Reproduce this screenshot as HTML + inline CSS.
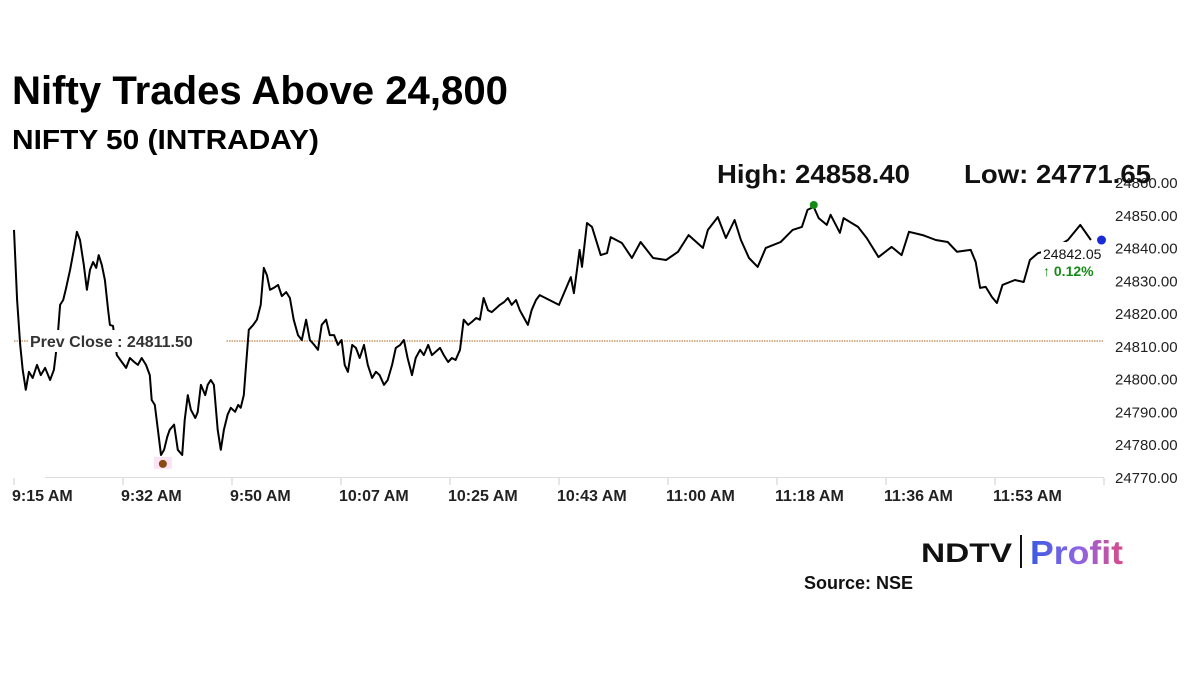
<!DOCTYPE html>
<html><head><meta charset="utf-8"><style>
html,body{margin:0;padding:0;background:#fff;}
svg{display:block;font-family:"Liberation Sans",sans-serif;}
</style></head><body>
<svg id="chart" width="1200" height="675" viewBox="0 0 1200 675">
<defs>
<linearGradient id="pg" x1="0" x2="1" y1="0" y2="0"><stop offset="0" stop-color="#3a5be0"/><stop offset="0.5" stop-color="#8a66e6"/><stop offset="1" stop-color="#d94a8a"/></linearGradient>
</defs>
<text x="12" y="104" font-size="40" font-weight="bold" fill="#000" textLength="496" lengthAdjust="spacingAndGlyphs">Nifty Trades Above 24,800</text>
<text x="12" y="149" font-size="28" font-weight="bold" fill="#000" textLength="307" lengthAdjust="spacingAndGlyphs">NIFTY 50 (INTRADAY)</text>
<text x="717" y="183" font-size="26" font-weight="bold" fill="#111" textLength="193" lengthAdjust="spacingAndGlyphs">High: 24858.40</text>
<g id="yaxis"></g>
<g id="xaxis"></g>
<g id="plot"></g>
<text x="964" y="183" font-size="26" font-weight="bold" fill="#111" textLength="187" lengthAdjust="spacingAndGlyphs">Low: 24771.65</text>
<g>
<text x="921" y="562" font-size="27" font-weight="bold" fill="#111" textLength="91" lengthAdjust="spacingAndGlyphs">NDTV</text>
<rect x="1020" y="535" width="2" height="33" fill="#111"/>
<text x="1030" y="564" font-size="33" font-weight="bold" fill="url(#pg)" textLength="93" lengthAdjust="spacingAndGlyphs">Profit</text>
</g>
<text x="804" y="589" font-size="18" font-weight="bold" fill="#111">Source: NSE</text>
</svg>
<script>
const yTicks = [24860,24850,24840,24830,24820,24810,24800,24790,24780,24770];
const xTickLabels = ["9:15 AM","9:32 AM","9:50 AM","10:07 AM","10:25 AM","10:43 AM","11:00 AM","11:18 AM","11:36 AM","11:53 AM",""];
const xTickMinutes = [0,17.5,35,52.5,70,87.5,105,122.5,140,157.5,175];
const minutes = [0,0.5,1.0,1.4,1.9,2.4,3.0,3.7,4.3,5.0,5.8,6.4,6.7,7.1,7.4,7.9,8.3,9.0,9.6,10.1,10.6,11.2,11.7,12.2,12.7,13.2,13.6,14.1,14.6,15.1,15.4,15.9,16.5,17.3,18.0,18.6,19.3,19.9,20.5,21.2,21.8,22.1,22.6,23.1,23.6,24.1,24.6,25.0,25.7,26.3,27.0,27.4,27.9,28.4,29.1,29.5,30.0,30.7,31.1,31.6,32.1,32.7,33.2,33.7,34.3,34.8,35.5,36.0,36.4,36.9,37.2,37.7,38.4,39.0,39.6,40.1,40.6,41.1,41.7,42.4,43.0,43.7,44.3,44.9,45.6,46.2,46.9,47.5,48.2,48.8,49.4,50.1,50.7,51.4,52.0,52.6,53.1,53.6,54.3,54.9,55.5,56.2,56.8,57.5,58.1,58.7,59.4,60.0,60.7,61.3,62.0,62.6,63.2,63.9,64.5,65.2,65.8,66.5,67.1,67.7,68.4,69.0,69.7,70.3,70.9,71.6,72.2,72.9,73.5,74.2,74.8,75.4,76.1,76.7,77.4,78.0,78.7,79.3,79.9,80.6,81.2,81.9,82.5,83.1,83.8,84.4,87.5,89.4,89.9,90.8,91.2,92.0,92.8,94.2,95.2,95.8,97.6,99.2,100.6,102.6,104.7,106.6,108.3,110.6,111.4,113.0,114.3,115.7,116.7,118.0,119.4,120.7,123.1,125.0,126.5,127.4,128.4,129.2,130.5,131.1,132.6,133.2,135.5,136.9,138.8,140.9,142.5,143.7,145.9,148.0,149.9,151.4,153.6,154.4,155.1,156.0,157.0,157.8,158.7,160.7,162.1,163.1,164.4,166.8,169.2,171.2,172.9];
const prices = [24845.4,24824.0,24810.3,24802.7,24796.6,24802.1,24800.2,24804.2,24801.1,24803.3,24799.6,24802.7,24807.2,24814.9,24822.5,24824.0,24827.1,24833.2,24839.3,24844.8,24842.3,24834.7,24827.1,24833.2,24835.6,24833.8,24837.7,24834.7,24830.1,24821.0,24816.4,24816.1,24807.2,24805.1,24803.3,24806.3,24805.1,24804.2,24806.3,24804.2,24801.1,24793.5,24792.0,24784.4,24776.7,24778.3,24782.2,24784.4,24786.0,24778.3,24776.7,24787.4,24795.0,24790.5,24788.0,24789.8,24798.1,24795.0,24798.1,24799.6,24798.1,24784.4,24778.3,24784.4,24789.0,24791.1,24789.9,24792.0,24791.1,24795.0,24802.7,24814.9,24816.4,24818.0,24822.5,24833.8,24831.6,24827.1,24827.7,24828.6,24825.2,24826.4,24824.6,24818.0,24813.3,24811.8,24818.0,24811.8,24810.3,24808.8,24816.4,24818.0,24813.3,24813.3,24810.3,24811.8,24804.2,24802.1,24810.3,24809.4,24806.3,24810.3,24804.2,24800.2,24802.1,24801.1,24798.1,24799.6,24804.2,24809.4,24810.3,24811.8,24806.3,24801.1,24806.3,24808.8,24807.2,24810.3,24807.2,24808.2,24809.4,24807.2,24805.1,24806.3,24805.7,24808.8,24818.0,24816.4,24817.3,24818.5,24818.0,24824.6,24820.9,24820.3,24821.5,24822.5,24823.4,24824.6,24822.5,24824.0,24820.9,24818.5,24816.4,24820.9,24824.0,24825.5,24822.5,24831.0,24826.1,24839.3,24834.1,24847.5,24846.3,24837.7,24838.3,24843.2,24841.4,24836.8,24841.7,24836.8,24836.2,24838.7,24843.8,24839.9,24845.4,24849.3,24842.9,24848.4,24842.3,24836.8,24834.1,24839.9,24841.7,24845.4,24846.3,24851.5,24852.4,24849.0,24846.9,24850.0,24844.5,24849.0,24846.3,24842.9,24837.1,24840.2,24837.7,24844.8,24843.8,24842.3,24841.7,24838.7,24839.3,24835.6,24827.7,24828.0,24824.9,24823.1,24828.6,24830.1,24829.5,24836.2,24838.3,24839.5,24842.3,24846.9,24842.3];
const prevClose = 24811.50;
const lowPoint = [23.9, 24774.0];
const highPoint = [128.4, 24853.0];
const lastPoint = [174.6, 24842.3];

const NS="http://www.w3.org/2000/svg";
const X0=14, PXM=109/17.5, Y0=182, PXV=295/90;
function xs(m){return X0+m*PXM;}
function ys(v){return Y0+(24860-v)*PXV;}
function mk(tag,attrs,parent){const e=document.createElementNS(NS,tag);for(const k in attrs)e.setAttribute(k,attrs[k]);parent.appendChild(e);return e;}
const yax=document.getElementById('yaxis'),xax=document.getElementById('xaxis'),plot=document.getElementById('plot');

yTicks.forEach(v=>{
  const t=mk('text',{x:1115,y:ys(v)+6,'font-size':15,fill:'#222'},yax);
  
  
  t.textContent=v.toFixed(2);
});
const axl=mk('line',{x1:45,x2:xs(175),y1:477.5,y2:477.5,stroke:'#ddd','stroke-width':1},xax);


xTickMinutes.forEach((m,i)=>{
  const tk=mk('line',{x1:xs(m),x2:xs(m),y1:478,y2:485,stroke:'#ccc'},xax);
  
  
  if(xTickLabels[i]){
    const t=mk('text',{x:xs(m)-2,y:501,'font-size':16,'font-weight':'bold',fill:'#222'},xax);
    
    
    t.textContent=xTickLabels[i];
  }
});
const pc=mk('line',{x1:14,x2:xs(175),y1:ys(prevClose),y2:ys(prevClose),stroke:'#b5651d','stroke-width':1,'stroke-dasharray':'1.5,1'},plot);


let d='';
const n=Math.min(minutes.length,prices.length);
for(let i=0;i<n;i++){d+=(i?'L':'M')+xs(minutes[i]).toFixed(1)+','+ys(prices[i]).toFixed(1);}
const ln=mk('path',{d:d,fill:'none',stroke:'#000','stroke-width':2,'stroke-linejoin':'round'},plot);


const bg=mk('rect',{x:28,y:330,width:198,height:22,fill:'#fff'},plot);


const pct=mk('text',{x:30,y:347,'font-size':16,'font-weight':'bold',fill:'#333'},plot);


pct.textContent='Prev Close : '+prevClose.toFixed(2);
const bg2=mk('rect',{x:1041,y:242,width:56,height:38,fill:'#fff'},plot);


const lp=mk('text',{x:1043,y:259,'font-size':14,fill:'#111'},plot);


lp.textContent='24842.05';
const ch=mk('text',{x:1043,y:276,'font-size':14,'font-weight':'bold',fill:'#168a16'},plot);


ch.textContent='↑ 0.12%';
const hl=mk('rect',{x:xs(lowPoint[0])-9,y:ys(lowPoint[1])-7,width:18,height:12,fill:'#fbe3f6'},plot);


const ld=mk('circle',{cx:xs(lowPoint[0]),cy:ys(lowPoint[1]),r:4,fill:'#8b4a12'},plot);


const hd=mk('circle',{cx:xs(highPoint[0]),cy:ys(highPoint[1]),r:4,fill:'#138a13'},plot);


const bd=mk('circle',{cx:xs(lastPoint[0]),cy:ys(lastPoint[1]),r:4.5,fill:'#1a2ad6'},plot);


</script>
</body></html>
